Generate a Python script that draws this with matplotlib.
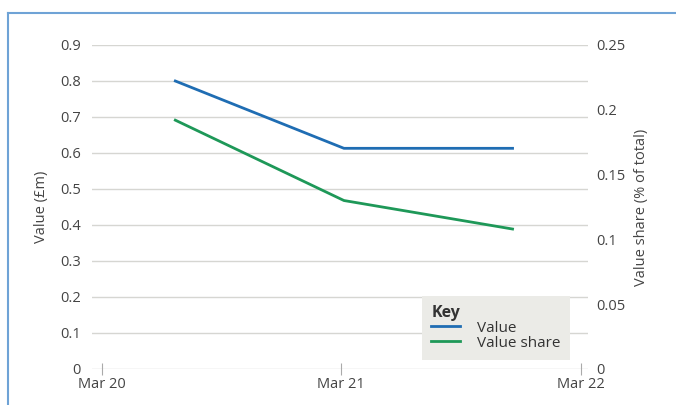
import matplotlib.pyplot as plt
from matplotlib.lines import Line2D
import datetime as dt

plt.rcParams['font.family'] = ['Open Sans', 'DejaVu Sans']

# data
dates = [dt.date(2020, 6, 21), dt.date(2021, 3, 5), dt.date(2021, 11, 17)]
value = [0.80, 0.613, 0.613]            # £m, left axis
value_share = [0.192, 0.130, 0.108]     # % of total, right axis
tick_dates = [dt.date(2020, 3, 1), dt.date(2021, 3, 1), dt.date(2022, 3, 1)]
tick_labels = ['Mar 20', 'Mar 21', 'Mar 22']
left_ticks = [0, 0.1, 0.2, 0.3, 0.4, 0.5, 0.6, 0.7, 0.8, 0.9]
right_ticks = [0, 0.05, 0.1, 0.15, 0.2, 0.25]
right_labels = ['0', '0.05', '0.1', '0.15', '0.2', '0.25']

blue = '#1f6db3'
green = '#1e9858'
grid_col = '#d6d6d2'
text_col = '#444444'

fig = plt.figure(figsize=(6.76, 4.05), dpi=100)
ax = fig.add_axes([92 / 676, 36 / 405, 496 / 676, 324 / 405])
ax2 = ax.twinx()

# frame of the panel
fig.add_artist(Line2D([8 / 676, 1], [1 - 13 / 405, 1 - 13 / 405], color='#6fa3d6', lw=1.5))
fig.add_artist(Line2D([8 / 676, 8 / 676], [0, 1 - 13 / 405], color='#6fa3d6', lw=1.5))

ax.set_ylim(0, 0.9)
ax2.set_ylim(0, 0.25)
ax.set_xlim(dt.date(2020, 2, 15), dt.date(2022, 3, 12))

ax.set_yticks(left_ticks)
ax.set_yticklabels([('%g' % t) for t in left_ticks])
ax2.set_yticks(right_ticks)
ax2.set_yticklabels(right_labels)
ax.set_xticks(tick_dates)
ax.set_xticklabels(tick_labels)

for t in left_ticks:
    ax.axhline(t, color=grid_col, lw=1, zorder=0)

for a in (ax, ax2):
    for s in a.spines.values():
        s.set_visible(False)

ax.tick_params(axis='y', length=0, pad=8, labelsize=10.5, labelcolor=text_col)
ax2.tick_params(axis='y', length=0, pad=6, labelsize=10.5, labelcolor=text_col)
ax.tick_params(axis='x', direction='inout', length=8, color='#aaaaaa', pad=2,
               labelsize=10.5, labelcolor=text_col)

ax.plot(dates, value, color=blue, lw=2, label='Value', zorder=3)
ax2.plot(dates, value_share, color=green, lw=2, label='Value share', zorder=3)

ax.set_ylabel('Value (£m)', fontsize=10.5, color=text_col, labelpad=8)
ax2.set_ylabel('Value share (% of total)', fontsize=10.5, color=text_col, labelpad=6)

handles = [Line2D([], [], color=blue, lw=2), Line2D([], [], color=green, lw=2)]
leg = ax2.legend(handles, ['Value', 'Value share'], title='Key', loc='lower left',
                 bbox_to_anchor=(330 / 496, 9 / 324), borderaxespad=0,
                 frameon=True, fancybox=False,
                 facecolor='#ebebe7', edgecolor='none', framealpha=1,
                 fontsize=11, title_fontsize=11.5, handlelength=1.9,
                 labelspacing=0.0, borderpad=0.6, handletextpad=1.1)
leg._legend_box.align = 'left'
leg.get_title().set_fontweight('bold')
leg.get_title().set_color('#333333')
for t in leg.get_texts():
    t.set_color('#333333')

fig.savefig('out.png', dpi=100)
